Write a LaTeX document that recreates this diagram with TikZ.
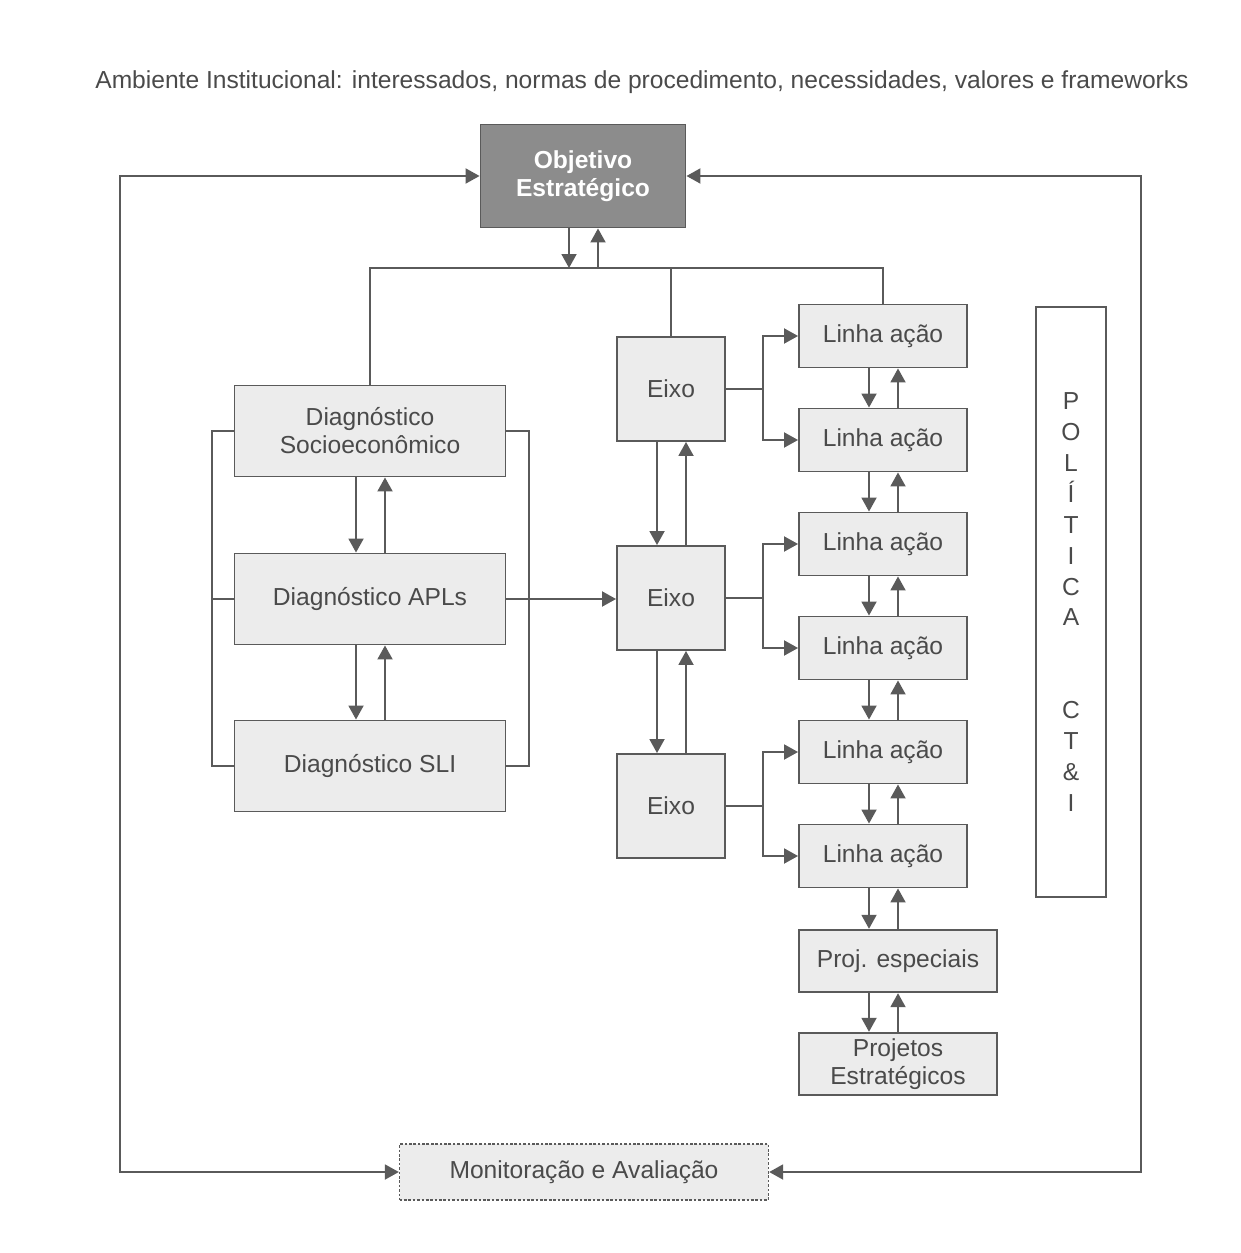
\documentclass[tikz,border=0pt]{standalone}
\usepackage{fontspec}
\setmainfont{Liberation Sans}
\usetikzlibrary{arrows.meta}

\definecolor{linha}{HTML}{5A5A5A}
\definecolor{caixa}{HTML}{ECECEC}
\definecolor{escuro}{HTML}{8C8C8C}
\definecolor{texto}{HTML}{4A4A4A}

\tikzset{
  bloco/.style={draw=linha, line width=1.1pt, fill=caixa, text=texto, align=center,
    font=\fontsize{14}{15.9}\selectfont, inner sep=0pt},
  diag/.style={bloco, minimum width=5.42cm, minimum height=1.82cm},
  eixo/.style={bloco, minimum width=2.16cm, minimum height=2.08cm},
  linhaacao/.style={bloco, minimum width=3.36cm, minimum height=1.26cm},
  projeto/.style={bloco, minimum width=3.96cm, minimum height=1.25cm},
  liga/.style={draw=linha, line width=1.1pt},
}

\begin{document}
\begin{tikzpicture}[x=0.02cm, y=-0.02cm, >={Triangle[length=0.28cm,width=0.3cm]}]
            \useasboundingbox (0,0) rectangle (1240,1253);

            % Titulo
            \node[text=texto, font=\fontsize{14}{16}\selectfont] (titulo) at (642,82)
              {Ambiente Institucional: interessados, normas de procedimento, necessidades, valores e frameworks};

            % Objetivo estrategico
            \node[bloco, fill=escuro, text=white, font=\bfseries\fontsize{14}{15.9}\selectfont,
                  minimum width=4.1cm, minimum height=2.06cm] (obj) at (583,176) {Objetivo\\Estratégico};

            % Diagnosticos
            \node[diag] (ds) at (370,431) {Diagnóstico\\Socioeconômico};
            \node[diag] (dapl) at (370,599) {Diagnóstico APLs};
            \node[diag] (dsli) at (370,766) {Diagnóstico SLI};

            % Eixos e linhas de acao
            \foreach \i/\y in {1/389,2/598,3/806}
              \node[eixo] (e\i) at (671,\y) {Eixo};
            \foreach \i/\y in {1/336,2/440,3/544,4/648,5/752,6/856}
              \node[linhaacao] (l\i) at (883,\y) {Linha ação};

            % Projetos
            \node[projeto] (pe) at (898,961) {Proj. especiais};
            \node[projeto] (pj) at (898,1064) {Projetos\\Estratégicos};

            % Monitoracao
            \node[bloco, line width=0.8pt, dash pattern=on 1.5pt off 1pt, minimum width=7.38cm,
                  minimum height=1.12cm] (mon) at (584,1172) {Monitoração e Avaliação};

            % Politica CT&I
            \node[draw=linha, line width=1.1pt, fill=white, text=texto, align=center, inner sep=0pt,
                  font=\fontsize{14}{17.6}\selectfont, minimum width=1.4cm, minimum height=11.82cm]
                  (pol) at (1071,602) {P\\O\\L\\Í\\T\\I\\C\\A\\[35.2pt]C\\T\\\&\\I};

            % Setas duplas verticais
            \foreach \a/\b in {ds/dapl,dapl/dsli,e1/e2,e2/e3,l1/l2,l2/l3,l3/l4,l4/l5,l5/l6} {
              \draw[liga, ->] ([xshift=-0.28cm]\a.south) -- ([xshift=-0.28cm]\b.north);
              \draw[liga, ->] ([xshift=0.3cm]\b.north) -- ([xshift=0.3cm]\a.south);
            }
            \draw[liga, ->] ([xshift=-0.28cm]l6.south) -- ([xshift=-0.28cm]l6.south |- pe.north);
            \draw[liga, ->] ([xshift=0.3cm]l6.south |- pe.north) -- ([xshift=0.3cm]l6.south);
            \draw[liga, ->] ([xshift=-0.58cm]pe.south) -- ([xshift=-0.58cm]pj.north);
            \draw[liga, ->] (pj.north) -- (pe.south);

            % Barramento sob o objetivo
            \coordinate (bus) at (583,268);
            \draw[liga, ->] ([xshift=-0.28cm]obj.south) -- ([xshift=-0.28cm]obj.south |- bus);
            \draw[liga, ->] ([xshift=0.3cm]obj.south |- bus) -- ([xshift=0.3cm]obj.south);
            \draw[liga] (ds.north) -- (ds.north |- bus) -| (l1.north);
            \draw[liga] (e1.north) -- (e1.north |- bus);

            % Colchetes dos diagnosticos
            \draw[liga] (ds.west) -- ++(-0.44cm,0) |- (dsli.west);
            \draw[liga] (dapl.west) -- ++(-0.44cm,0);
            \draw[liga] (ds.east) -- ++(0.46cm,0) |- (dsli.east);
            \draw[liga, ->] (dapl.east) -- (dapl.east -| e2.west);

            % Eixos para linhas de acao
            \foreach \e/\a/\b in {e1/l1/l2,e2/l3/l4,e3/l5/l6} {
              \draw[liga, ->] (\e.east) -- ++(0.74cm,0) |- (\a.west);
              \draw[liga, ->] (\e.east) -- ++(0.74cm,0) |- (\b.west);
            }

            % Laços externos com a monitoracao
            \coordinate (esq) at (120,0);
            \coordinate (dir) at (1141,0);
            \draw[liga, <->] (obj.west) -- (obj.west -| esq) -- (mon.west -| esq) -- (mon.west);
            \draw[liga, <->] (obj.east) -- (obj.east -| dir) -- (mon.east -| dir) -- (mon.east);
        \end{tikzpicture}
\end{document}
